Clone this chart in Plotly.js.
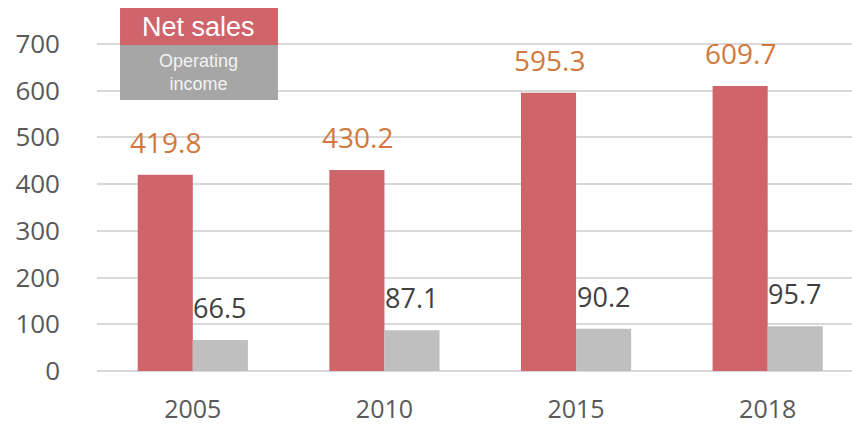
<!DOCTYPE html>
<html>
<head>
<meta charset="utf-8">
<script src="https://cdn.plot.ly/plotly-3.0.1.min.js"></script>
<style>html,body{margin:0;padding:0;background:#fff;}#chart{width:852px;height:424px;}</style>
</head>
<body>
<div id="chart"></div>
<script>
const years = ['2005', '2010', '2015', '2018'];
const netSales = [419.8, 430.2, 595.3, 609.7];
const operatingIncome = [66.5, 87.1, 90.2, 95.7];
const yTicks = [0, 100, 200, 300, 400, 500, 600, 700];

const RED = '#D0646B';
const GRAY = '#BFBFBF';

const traces = [
  {type: 'bar', x: years, y: netSales, name: 'Net sales', marker: {color: RED}, hoverinfo: 'none'},
  {type: 'bar', x: years, y: operatingIncome, name: 'Operating income', marker: {color: GRAY}, hoverinfo: 'none'}
];

const annotations = [];
years.forEach((yr, i) => {
  annotations.push({x: i, y: netSales[i], xref: 'x', yref: 'y', text: netSales[i].toFixed(1),
    showarrow: false, xanchor: 'center', yanchor: 'bottom', xshift: -27, yshift: 12,
    font: {family: 'Open Sans', size: 28, color: '#D2783C'}});
  annotations.push({x: i, y: operatingIncome[i], xref: 'x', yref: 'y', text: operatingIncome[i].toFixed(1),
    showarrow: false, xanchor: 'center', yanchor: 'bottom', xshift: 27, yshift: 12,
    font: {family: 'Open Sans', size: 27, color: '#404040'}});
});
// custom legend (paper coords: plot spans y 41..371)
annotations.push({xref: 'paper', yref: 'paper', x: 0.1345, y: 1.0424, text: 'Net sales', showarrow: false,
  xanchor: 'center', yanchor: 'middle', font: {family: 'Liberation Sans', size: 27, color: '#FFFFFF'}});
annotations.push({xref: 'paper', yref: 'paper', x: 0.1345, y: 0.9045, text: 'Operating<br>income', showarrow: false,
  xanchor: 'center', yanchor: 'middle', font: {family: 'Liberation Sans', size: 18, color: '#F2F2F2'}});

const layout = {
  width: 852, height: 424,
  margin: {l: 97, r: 0, t: 41, b: 53, pad: 0},
  paper_bgcolor: '#FFFFFF', plot_bgcolor: '#FFFFFF',
  showlegend: false,
  barmode: 'group', bargap: 0.425, bargroupgap: 0,
  font: {family: 'Open Sans', color: '#595959'},
  xaxis: {type: 'category', range: [-0.5, 3.44], showgrid: false, zeroline: false,
    showline: false, ticks: '', ticklabelstandoff: 21, tickfont: {family: 'Open Sans', size: 25, color: '#595959'}, fixedrange: true},
  yaxis: {range: [0, 706], tickvals: yTicks, ticktext: yTicks.map(String), showgrid: true,
    gridcolor: '#D9D9D9', gridwidth: 2, zeroline: true, zerolinecolor: '#D9D9D9', zerolinewidth: 2,
    showline: false, ticks: '', ticklabelstandoff: 36, tickfont: {family: 'Open Sans', size: 26, color: '#595959'}, fixedrange: true},
  shapes: [
    {type: 'rect', xref: 'paper', yref: 'paper', x0: 0.0305, x1: 0.2397, y0: 0.9879, y1: 1.1, 
      fillcolor: RED, line: {width: 0}, layer: 'above'},
    {type: 'rect', xref: 'paper', yref: 'paper', x0: 0.0305, x1: 0.2397, y0: 0.8212, y1: 0.9879,
      fillcolor: '#A6A6A6', line: {width: 0}, layer: 'above'}
  ],
  annotations: annotations
};

Plotly.newPlot('chart', traces, layout, {displayModeBar: false, staticPlot: true});
</script>
</body>
</html>
